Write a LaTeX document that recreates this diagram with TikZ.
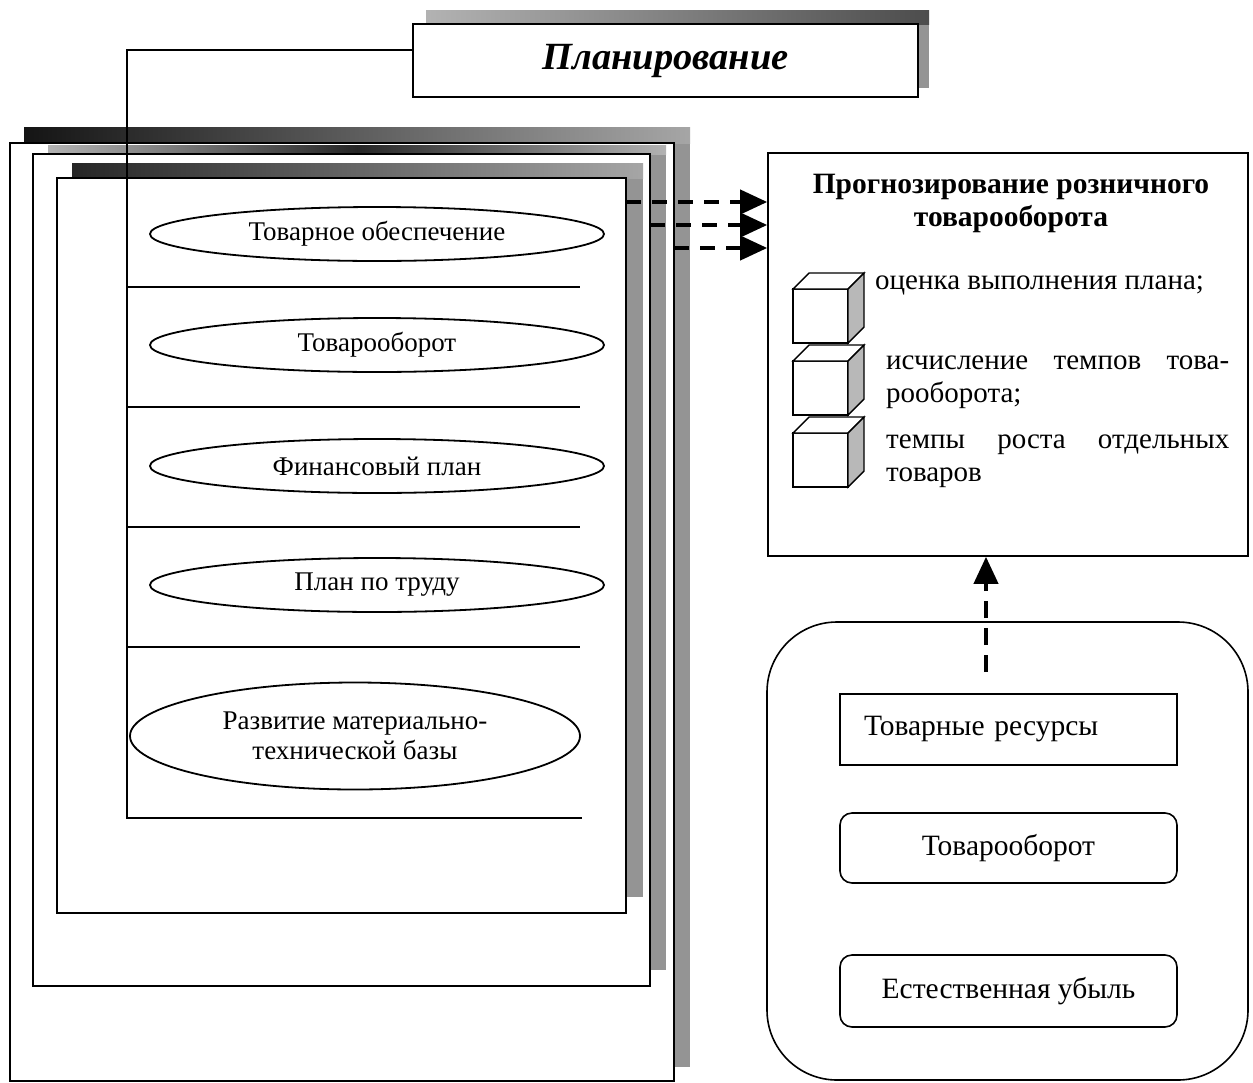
\documentclass[tikz,border=0pt]{standalone}
\usepackage{fontspec}
\setmainfont{Liberation Serif}
\usetikzlibrary{shapes.geometric,arrows.meta,calc}
\newcommand\fsz[2]{\fontsize{#1}{#2}\selectfont}
\begin{document}
\begin{tikzpicture}[x=1pt,y=-1pt,
  frm/.style={draw=black,line width=1.6pt,fill=white,inner sep=0pt,rectangle},
  shd/.style={fill=black!42},
  ln/.style={line width=1.6pt},
  ell/.style={ellipse,draw,line width=1.8pt,inner sep=0pt,minimum width=454pt,minimum height=54pt,font=\fsz{27}{30},align=center},
  darr/.style={line width=4pt,dash pattern=on 15pt off 11pt,-{Triangle[length=27pt,width=24pt]}},
  bx/.style={draw,line width=1.6pt,fill=white,minimum width=337pt,minimum height=71pt,inner sep=0pt,font=\fsz{29.5}{33}},
  txt/.style={font=\fsz{29}{33},inner sep=0pt},
  cube/.pic={
    \draw[line width=1.4pt,fill=white] (0,0) rectangle (55,54);
    \draw[line width=1.4pt,fill=white] (0,0) -- (16,-16) -- (71,-16) -- (55,0) -- cycle;
    \draw[line width=1.4pt,fill=black!28] (55,0) -- (71,-16) -- (71,38) -- (55,54) -- cycle;
  }
]
\fill[white] (0,0) rectangle (1253,1082);
\useasboundingbox (0,0) rectangle (1253,1082);

% stacked frames with shadows
\fill[shd] (24,127) rectangle (690,1067);
\shade[left color=black!92,right color=black!35] (24,127) rectangle (690,143);
\node[frm,minimum width=664pt,minimum height=938pt] (frA) at (342,612) {};
\fill[shd] (48,145) rectangle (666,970);
\shade[left color=black!30,right color=black!30,middle color=black!85] (48,145) rectangle (666,154);
\node[frm,minimum width=617pt,minimum height=832pt] (frB) at (341.5,570) {};
\fill[shd] (72,163) rectangle (643,897);
\shade[left color=black!85,right color=black!35] (72,163) rectangle (643,178);
\node[frm,minimum width=569pt,minimum height=735pt] (frC) at (341.5,545.5) {};

% title
\fill[shd] (426,10) rectangle (929,88);
\shade[left color=black!30,right color=black!70] (426,10) rectangle (929,24);
\node[frm,minimum width=505pt,minimum height=73pt,font=\fsz{38.5}{44}\bfseries\itshape] (title) at (665.5,60.5) {Планирование};

% planning panel connector
\coordinate (tl) at (413,50);
\coordinate (pbl) at (127,818);
\coordinate (pbr) at (582,818);
\draw[ln] (tl) -| (pbl) -- (pbr);
\foreach \yy in {287,407,527,647} \draw[ln] (127,\yy) -- (580,\yy);

\node[ell] (e1) at (377,234) {Товарное обеспечение};
\node[ell] (e2) at (377,345) {Товарооборот};
\node[ell] (e3) at (377,466) {Финансовый план};
\node[ell] (e4) at (377,585) {План по труду};
\node[ell,minimum width=450pt,minimum height=107pt] (e5) at (355,736) {Развитие материально-\\технической базы};

% forecasting box
\node[frm,minimum width=480pt,minimum height=403pt] (fc) at (1008,354.5) {};
\node[font=\fsz{29.5}{33}\bfseries,align=center,inner sep=0pt] (fch) at (1011,203) {Прогнозирование розничного\\товарооборота};
\pic at (793,289) {cube};
\pic at (793,361) {cube};
\pic at (793,433) {cube};
\node[txt,anchor=west] (t1) at (875,285) {оценка выполнения плана;};
\node[txt,anchor=west,align=left] (t2) at (886,382) {\makebox[343pt][s]{исчисление темпов това-}\\рооборота;};
\node[txt,anchor=west,align=left] (t3) at (886,461) {\makebox[343pt][s]{темпы роста отдельных}\\товаров};

% dashed arrows
\coordinate (s1) at (626,202);
\coordinate (s2) at (650,225);
\coordinate (s3) at (674,248);
\draw[darr] (s1) -- (s1 -| fc.west);
\draw[darr] (s2) -- (s2 -| fc.west);
\draw[darr] (s3) -- (s3 -| fc.west);

% resources block
\node[draw,line width=1.6pt,rounded corners=70pt,minimum width=481pt,minimum height=458pt,inner sep=0pt] (rb) at (1007.5,851) {};
\node[bx,text width=337pt,align=left] (b1) at (1008.5,729.5) {\hspace*{24pt}Товарные ресурсы};
\node[bx,rounded corners=12pt,minimum height=70pt] (b2) at (1008.5,848) {Товарооборот};
\node[bx,rounded corners=12pt,minimum height=72pt] (b3) at (1008.5,991) {Естественная убыль};
\coordinate (va) at (986,672);
\draw[darr,dash pattern=on 17pt off 10pt] (va) -- (va |- fc.south);
\end{tikzpicture}
\end{document}
